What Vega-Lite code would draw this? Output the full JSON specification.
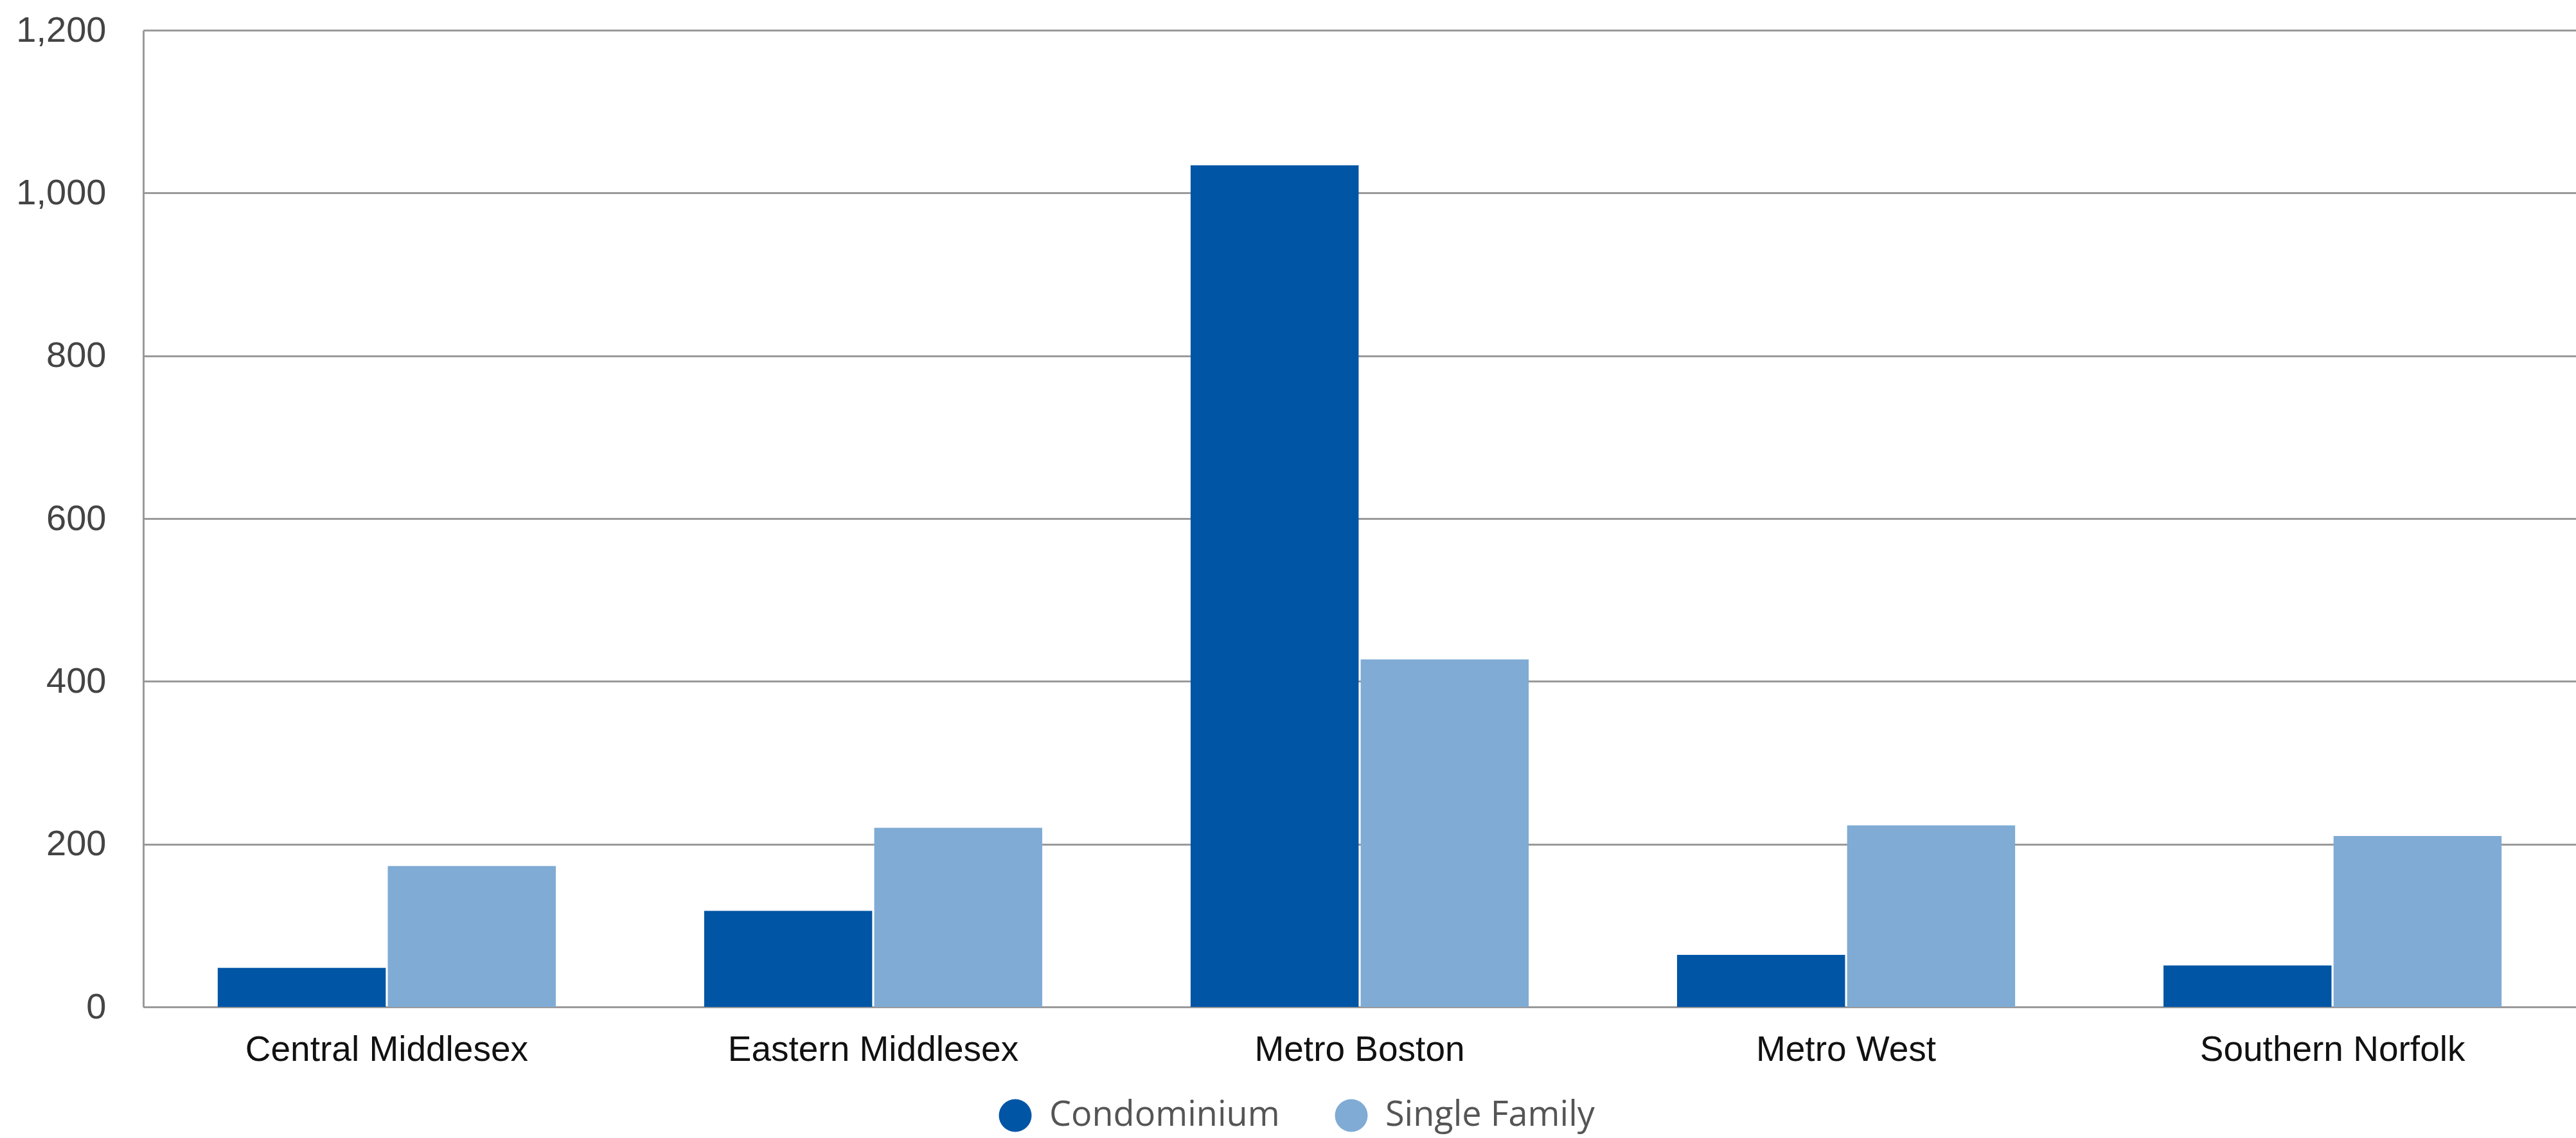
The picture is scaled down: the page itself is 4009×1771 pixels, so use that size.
{
  "$schema": "https://vega.github.io/schema/vega-lite/v6.json",
  "autosize": {"type": "none"},
  "width": 3786,
  "height": 1520,
  "padding": {"left": 223, "top": 47, "right": 0, "bottom": 204},
  "background": "white",
  "data": {
    "values": [
      {"region": "Central Middlesex", "type": "Condominium", "count": 48},
      {"region": "Central Middlesex", "type": "Single Family", "count": 173},
      {"region": "Eastern Middlesex", "type": "Condominium", "count": 118},
      {"region": "Eastern Middlesex", "type": "Single Family", "count": 220},
      {"region": "Metro Boston", "type": "Condominium", "count": 1034},
      {"region": "Metro Boston", "type": "Single Family", "count": 427},
      {"region": "Metro West", "type": "Condominium", "count": 64},
      {"region": "Metro West", "type": "Single Family", "count": 223},
      {"region": "Southern Norfolk", "type": "Condominium", "count": 51},
      {"region": "Southern Norfolk", "type": "Single Family", "count": 210}
    ]
  },
  "mark": {"type": "bar"},
  "encoding": {
    "x": {
      "field": "region",
      "type": "nominal",
      "sort": null,
      "scale": {"paddingInner": 0.305, "paddingOuter": 0.153},
      "axis": {
        "title": null,
        "labelAngle": 0,
        "labelLimit": 0,
        "labelFont": "Liberation Sans",
        "labelFontSize": 55,
        "labelColor": "#111111",
        "labelPadding": 40,
        "ticks": false,
        "domain": true,
        "domainColor": "#9a9a9a",
        "domainWidth": 3,
        "grid": false
      }
    },
    "xOffset": {
      "field": "type",
      "type": "nominal",
      "scale": {"paddingInner": 0.012}
    },
    "y": {
      "field": "count",
      "type": "quantitative",
      "scale": {"domain": [0, 1200], "nice": false},
      "axis": {
        "title": null,
        "values": [0, 200, 400, 600, 800, 1000, 1200],
        "format": ",d",
        "labelFont": "Liberation Sans",
        "labelFontSize": 56,
        "labelColor": "#444444",
        "labelPadding": 58,
        "ticks": false,
        "domain": true,
        "domainColor": "#9a9a9a",
        "domainWidth": 3,
        "grid": true,
        "gridColor": "#9a9a9a",
        "gridWidth": 3
      }
    },
    "color": {
      "field": "type",
      "type": "nominal",
      "scale": {"domain": ["Condominium", "Single Family"], "range": ["#0055A5", "#7FABD5"]},
      "legend": {
        "title": null,
        "orient": "none",
        "direction": "horizontal",
        "legendX": 1330,
        "legendY": 1662,
        "symbolType": "circle",
        "symbolSize": 2600,
        "symbolStrokeWidth": 0,
        "labelLimit": 0,
        "labelFont": "Open Sans",
        "labelFontSize": 54,
        "labelColor": "#555555",
        "labelOffset": 26,
        "columnPadding": 84,
        "padding": 0
      }
    }
  },
  "config": {
    "view": {"stroke": null}
  }
}
